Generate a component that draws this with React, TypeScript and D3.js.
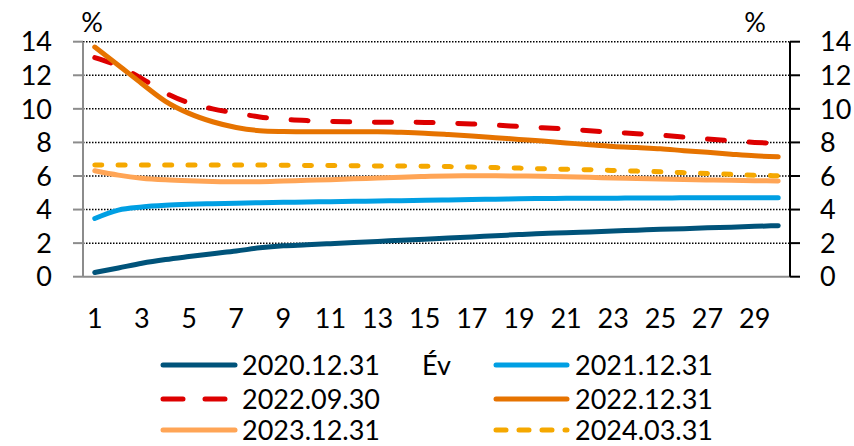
import React from "react";
import * as d3 from "d3";

const years = d3.range(1, 31);
const yTicks = [0, 2, 4, 6, 8, 10, 12, 14];
const xTickLabels = years.filter((y) => y % 2 === 1);

const s2020_12_31 = [0.25, 0.52, 0.8, 1.02, 1.2, 1.37, 1.53, 1.72, 1.84, 1.9, 1.97, 2.04, 2.1, 2.17, 2.23, 2.3, 2.37, 2.44, 2.51, 2.58, 2.62, 2.67, 2.72, 2.77, 2.82, 2.86, 2.91, 2.95, 3.0, 3.04];
const s2021_12_31 = [3.47, 3.97, 4.15, 4.25, 4.31, 4.35, 4.38, 4.41, 4.43, 4.45, 4.47, 4.49, 4.51, 4.53, 4.55, 4.57, 4.6, 4.62, 4.64, 4.66, 4.67, 4.68, 4.68, 4.69, 4.69, 4.7, 4.7, 4.7, 4.7, 4.7];
const s2022_09_30 = [13.05, 12.55, 11.8, 10.95, 10.35, 10.0, 9.75, 9.52, 9.38, 9.3, 9.25, 9.22, 9.2, 9.2, 9.19, 9.15, 9.1, 9.03, 8.95, 8.87, 8.8, 8.7, 8.6, 8.52, 8.43, 8.32, 8.2, 8.1, 8.0, 7.94];
const s2022_12_31 = [13.68, 12.6, 11.5, 10.45, 9.73, 9.23, 8.89, 8.7, 8.65, 8.63, 8.63, 8.63, 8.63, 8.6, 8.55, 8.47, 8.38, 8.28, 8.18, 8.08, 7.97, 7.86, 7.76, 7.69, 7.62, 7.51, 7.41, 7.3, 7.2, 7.14];
const s2023_12_31 = [6.31, 6.05, 5.87, 5.77, 5.71, 5.67, 5.65, 5.66, 5.7, 5.74, 5.78, 5.83, 5.88, 5.93, 5.97, 6.0, 6.01, 6.01, 6.0, 5.98, 5.95, 5.92, 5.88, 5.85, 5.82, 5.79, 5.76, 5.74, 5.72, 5.7];
const s2024_03_31 = [6.65, 6.66, 6.66, 6.66, 6.66, 6.66, 6.65, 6.65, 6.64, 6.63, 6.62, 6.61, 6.6, 6.59, 6.58, 6.56, 6.53, 6.5, 6.47, 6.43, 6.4, 6.37, 6.33, 6.29, 6.25, 6.2, 6.15, 6.1, 6.05, 6.01];

const seriesNames = ["2020.12.31", "2021.12.31", "2022.09.30", "2022.12.31", "2023.12.31", "2024.03.31"];
const seriesValues = [s2020_12_31, s2021_12_31, s2022_09_30, s2022_12_31, s2023_12_31, s2024_03_31];
const seriesColors = ["#00537A", "#009FE3", "#DD0000", "#E67300", "#FFA556", "#F5A800"];
const seriesDash = ["", "", "17 24.7", "", "", "7 16.3"];
const legendDash = ["", "", "20 22", "", "", "10 13"];

const FONT = "Lato, 'Open Sans', sans-serif";

export default function App() {
  const W = 854;
  const H = 446;
  const left = 83;
  const right = 790;
  const top = 41.7;
  const bottom = 276.7;

  const x = d3.scalePoint<number>().domain(years).range([left, right]).padding(0.5);
  const y = d3.scaleLinear().domain([0, 14]).range([bottom, top]);

  const line = d3
    .line<number>()
    .x((_, i) => x(years[i]) as number)
    .y((d) => y(d))
    .curve(d3.curveMonotoneX);

  const fs = 27;

  const legendRows = [
    { y: 365, items: [0, 1] },
    { y: 399, items: [2, 3] },
    { y: 430, items: [4, 5] },
  ];
  const colX = [
    { x1: 163, x2: 235, tx: 242 },
    { x1: 496, x2: 567, tx: 575 },
  ];

  return (
    <svg
      width={W}
      height={H}
      style={{ position: "absolute", left: 0, top: 0, background: "#fff" }}
      fontFamily={FONT}
    >
      {/* gridlines */}
      {yTicks
        .filter((t) => t > 0)
        .map((t) => (
          <line
            key={"g" + t}
            x1={left}
            x2={right}
            y1={y(t)}
            y2={y(t)}
            stroke="#000"
            strokeWidth={1.5}
            strokeDasharray="1.5 1.5"
          />
        ))}

      {/* bottom axis */}
      <line x1={left} x2={right} y1={bottom} y2={bottom} stroke="#8c8c8c" strokeWidth={2} />

      {/* left axis */}
      <line x1={left} x2={left} y1={top} y2={bottom} stroke="#8c8c8c" strokeWidth={2} />
      {yTicks.map((t) => (
        <g key={"l" + t}>
          <line x1={left - 10} x2={left} y1={y(t)} y2={y(t)} stroke="#8c8c8c" strokeWidth={2} />
          <text x={52} y={y(t)} dy="0.36em" textAnchor="end" fontSize={fs} fill="#000">
            {t}
          </text>
        </g>
      ))}

      {/* right axis */}
      <line x1={right} x2={right} y1={top} y2={bottom} stroke="#000" strokeWidth={2} />
      {yTicks.map((t) => (
        <g key={"r" + t}>
          <line x1={right} x2={right + 10} y1={y(t)} y2={y(t)} stroke="#000" strokeWidth={2} />
          <text x={820} y={y(t)} dy="0.36em" textAnchor="start" fontSize={fs} fill="#000">
            {t}
          </text>
        </g>
      ))}

      <text x={92} y={32} textAnchor="middle" fontSize={fs} fill="#000">%</text>
      <text x={755} y={32} textAnchor="middle" fontSize={fs} fill="#000">%</text>

      {/* x tick labels */}
      {xTickLabels.map((t) => (
        <text key={"x" + t} x={x(t)} y={328} textAnchor="middle" fontSize={fs} fill="#000">
          {t}
        </text>
      ))}

      {/* series */}
      {seriesValues.map((vals, i) => (
        <path
          key={"s" + i}
          d={line(vals) || ""}
          fill="none"
          stroke={seriesColors[i]}
          strokeWidth={5}
          strokeLinecap="round"
          strokeLinejoin="round"
          strokeDasharray={seriesDash[i] || undefined}
        />
      ))}

      {/* legend */}
      {legendRows.map((row, ri) =>
        row.items.map((si, ci) => (
          <g key={"lg" + si}>
            <line
              x1={colX[ci].x1}
              x2={colX[ci].x2}
              y1={row.y}
              y2={row.y}
              stroke={seriesColors[si]}
              strokeWidth={5}
              strokeLinecap="round"
              strokeDasharray={legendDash[si] || undefined}
            />
            <text x={colX[ci].tx} y={row.y} dy="0.36em" fontSize={fs} fill="#000">
              {seriesNames[si]}
            </text>
          </g>
        ))
      )}
      <text x={422} y={365} dy="0.36em" fontSize={fs} fill="#000">Év</text>
    </svg>
  );
}
